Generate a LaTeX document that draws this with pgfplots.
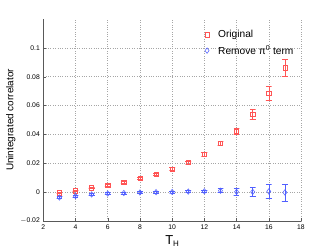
\documentclass[border=0pt]{standalone}
\usepackage{pgfplots}
\pgfplotsset{compat=1.18}
\usepackage{fontspec}
\setmainfont{Liberation Sans}
\definecolor{myred}{RGB}{255,85,85}
\definecolor{myblue}{RGB}{80,95,255}
\begin{document}
\begin{tikzpicture}
\begin{axis}[
  scale only axis,
  width=257.7bp, height=202bp,
  xmin=2, xmax=18, ymin=-0.02, ymax=0.12,
  xtick={2,4,...,18},
  ytick={-0.02,0,0.02,0.04,0.06,0.08,0.1},
  yticklabels={$-$0.02,0,0.02,0.04,0.06,0.08,0.1},
  axis x line*=bottom, axis y line*=left,
  axis line style={-, gray!70!black, line width=0.4pt},
  tick align=inside,
  major tick length=2.5bp,
  tick style={gray!70!black, line width=0.4pt},
  grid=major,
  major grid style={dotted, gray!70, line width=0.5pt},
  tick label style={font=\fontsize{6.8}{8}\selectfont},
  /pgf/number format/assume math mode=true,
  scaled y ticks=false,
  ylabel={Unintegrated correlator},
  ylabel style={font=\fontsize{10.5}{12}\selectfont},
  every axis y label/.style={at={(ticklabel cs:0.5)}, rotate=90, anchor=south, yshift=-2bp},
  xlabel={\fontsize{13}{14}\selectfont T\raisebox{-0.35ex}{\fontsize{8}{9}\selectfont H}},
  every axis x label/.style={at={(ticklabel cs:0.5)}, anchor=north, yshift=1bp},
  legend style={draw=none, fill=none, at={(rel axis cs:0.615,0.965)}, anchor=north west,
    font=\fontsize{10.2}{12}\selectfont, row sep=2.5bp},
  legend cell align=left,
  unbounded coords=jump,
  clip=false,
]
% markers
\addplot[only marks, mark=square, mark size=2.1bp, myred, line width=0.55pt] coordinates {
 (3,-0.0005) (4,0.0010) (5,0.0030) (6,0.0050) (7,0.0070) (8,0.0096) (9,0.0124) (10,0.0160)
 (11,0.0206) (12,0.0264) (13,0.0340) (14,0.0421) (15,0.0537) (16,0.0683) (17,0.0862)
};
\addlegendentry{\hspace{7bp}Original}
\addplot[only marks, mark=diamond, mark size=2.7bp, myblue, line width=0.55pt] coordinates {
 (3,-0.0037) (4,-0.0027) (5,-0.0016) (6,-0.0010) (7,-0.0006) (8,-0.0002) (9,0.0000) (10,0.0001)
 (11,0.0004) (12,0.0006) (13,0.0010) (14,0.0002) (15,0.0002) (16,0.0005) (17,-0.0002)
};
\addlegendentry{\hspace{7bp}Remove π\textsuperscript{0} term}
% error bars with caps (upper and lower ends)
\addplot[myred, line width=0.55pt, forget plot] coordinates {
 (2.82,0.0001) (3.18,0.0001) (3,0.0001) (3,-0.0011) (2.82,-0.0011) (3.18,-0.0011) (nan,nan)
 (3.82,0.0016) (4.18,0.0016) (4,0.0016) (4,0.0004) (3.82,0.0004) (4.18,0.0004) (nan,nan)
 (4.82,0.0036) (5.18,0.0036) (5,0.0036) (5,0.0024) (4.82,0.0024) (5.18,0.0024) (nan,nan)
 (5.82,0.0057) (6.18,0.0057) (6,0.0057) (6,0.0043) (5.82,0.0043) (6.18,0.0043) (nan,nan)
 (6.82,0.0077) (7.18,0.0077) (7,0.0077) (7,0.0063) (6.82,0.0063) (7.18,0.0063) (nan,nan)
 (7.82,0.0104) (8.18,0.0104) (8,0.0104) (8,0.0088) (7.82,0.0088) (8.18,0.0088) (nan,nan)
 (8.82,0.0133) (9.18,0.0133) (9,0.0133) (9,0.0115) (8.82,0.0115) (9.18,0.0115) (nan,nan)
 (9.82,0.0170) (10.18,0.0170) (10,0.0170) (10,0.0150) (9.82,0.0150) (10.18,0.0150) (nan,nan)
 (10.82,0.0217) (11.18,0.0217) (11,0.0217) (11,0.0195) (10.82,0.0195) (11.18,0.0195) (nan,nan)
 (11.82,0.0276) (12.18,0.0276) (12,0.0276) (12,0.0252) (11.82,0.0252) (12.18,0.0252) (nan,nan)
 (12.82,0.0356) (13.18,0.0356) (13,0.0356) (13,0.0324) (12.82,0.0324) (13.18,0.0324) (nan,nan)
 (13.82,0.0442) (14.18,0.0442) (14,0.0442) (14,0.0400) (13.82,0.0400) (14.18,0.0400) (nan,nan)
 (14.82,0.0571) (15.18,0.0571) (15,0.0571) (15,0.0503) (14.82,0.0503) (15.18,0.0503) (nan,nan)
 (15.82,0.0731) (16.18,0.0731) (16,0.0731) (16,0.0635) (15.82,0.0635) (16.18,0.0635) (nan,nan)
 (16.82,0.0924) (17.18,0.0924) (17,0.0924) (17,0.0800) (16.82,0.0800) (17.18,0.0800)
};
\addplot[myblue, line width=0.55pt, forget plot] coordinates {
 (2.82,-0.0030) (3.18,-0.0030) (3,-0.0030) (3,-0.0044) (2.82,-0.0044) (3.18,-0.0044) (nan,nan)
 (3.82,-0.0020) (4.18,-0.0020) (4,-0.0020) (4,-0.0034) (3.82,-0.0034) (4.18,-0.0034) (nan,nan)
 (4.82,-0.0009) (5.18,-0.0009) (5,-0.0009) (5,-0.0023) (4.82,-0.0023) (5.18,-0.0023) (nan,nan)
 (5.82,-0.0003) (6.18,-0.0003) (6,-0.0003) (6,-0.0017) (5.82,-0.0017) (6.18,-0.0017) (nan,nan)
 (6.82,0.0001) (7.18,0.0001) (7,0.0001) (7,-0.0013) (6.82,-0.0013) (7.18,-0.0013) (nan,nan)
 (7.82,0.0005) (8.18,0.0005) (8,0.0005) (8,-0.0009) (7.82,-0.0009) (8.18,-0.0009) (nan,nan)
 (8.82,0.0007) (9.18,0.0007) (9,0.0007) (9,-0.0007) (8.82,-0.0007) (9.18,-0.0007) (nan,nan)
 (9.82,0.0008) (10.18,0.0008) (10,0.0008) (10,-0.0006) (9.82,-0.0006) (10.18,-0.0006) (nan,nan)
 (10.82,0.0012) (11.18,0.0012) (11,0.0012) (11,-0.0004) (10.82,-0.0004) (11.18,-0.0004) (nan,nan)
 (11.82,0.0015) (12.18,0.0015) (12,0.0015) (12,-0.0003) (11.82,-0.0003) (12.18,-0.0003) (nan,nan)
 (12.82,0.0024) (13.18,0.0024) (13,0.0024) (13,-0.0004) (12.82,-0.0004) (13.18,-0.0004) (nan,nan)
 (13.82,0.0024) (14.18,0.0024) (14,0.0024) (14,-0.0020) (13.82,-0.0020) (14.18,-0.0020) (nan,nan)
 (14.82,0.0034) (15.18,0.0034) (15,0.0034) (15,-0.0030) (14.82,-0.0030) (15.18,-0.0030) (nan,nan)
 (15.82,0.0053) (16.18,0.0053) (16,0.0053) (16,-0.0043) (15.82,-0.0043) (16.18,-0.0043) (nan,nan)
 (16.82,0.0058) (17.18,0.0058) (17,0.0058) (17,-0.0062) (16.82,-0.0062) (17.18,-0.0062)
};
\coordinate (sw) at (rel axis cs:0,0);
\coordinate (ne) at (rel axis cs:1,1);
\end{axis}
\useasboundingbox ([shift={(-43.3bp,-29bp)}]sw) rectangle ([shift={(31bp,19bp)}]ne);
\end{tikzpicture}
\end{document}
